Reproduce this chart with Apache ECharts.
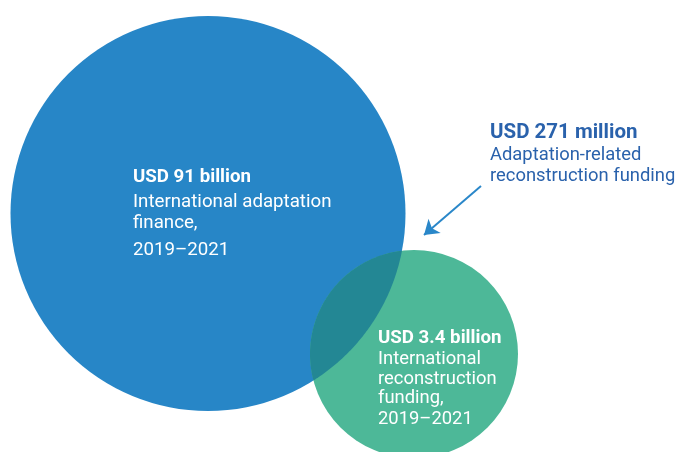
<!DOCTYPE html>
<html><head><meta charset="utf-8">
<script src="https://cdn.jsdelivr.net/npm/echarts@6/dist/echarts.min.js"></script>
<style>html,body{margin:0;padding:0;background:#fff}#c{width:679px;height:452px}</style>
</head><body><div id="c"></div>
<script>
// ---- data ----
const setNames = ['International adaptation finance', 'International reconstruction funding'];
const setAmounts = ['USD 91 billion', 'USD 3.4 billion'];
const overlapAmount = 'USD 271 million';
const setDescriptions = [
  ['International adaptation', 'finance,', '2019\u20132021'],
  ['International', 'reconstruction', 'funding,', '2019\u20132021']
];
const overlapDescription = ['Adaptation-related', 'reconstruction funding'];

// ---- layout (schematic Venn, in axis units) ----
const circleCenters = [[208, 213.5], [414, 354]];
const circleRadii = [197.5, 104];
const labelAnchors = [[133, 177], [378, 338], [490, 133]];
const lineOffsets = [[0, 25, 46, 73], [0, 21, 41, 60, 81], [0, 22, 43]];
const arrowPath = [[481, 186], [424, 235]];

const colors = { blue: '#2786C7', green: '#4DB898', overlap: '#238794', note: '#2A62AC', arrow: '#2A87C9' };
const FONT = 'Roboto, "Noto Sans", sans-serif';

const chart = echarts.init(document.getElementById('c'), null, { renderer: 'canvas' });

function circleItem(params, api) {
  const c = api.coord([api.value(0), api.value(1)]);
  const r = api.size([api.value(2), 0])[0];
  return { type: 'circle', shape: { cx: c[0], cy: c[1], r: r },
    style: { fill: params.dataIndex === 0 ? colors.blue : colors.green } };
}

function lensItem(params, api) {
  const a = api.coord(circleCenters[0]), b = api.coord(circleCenters[1]);
  const r1 = api.size([circleRadii[0], 0])[0], r2 = api.size([circleRadii[1], 0])[0];
  const dx = b[0] - a[0], dy = b[1] - a[1];
  const d = Math.hypot(dx, dy);
  const alpha = Math.acos((d * d + r1 * r1 - r2 * r2) / (2 * d * r1));
  const beta = Math.acos((d * d + r2 * r2 - r1 * r1) / (2 * d * r2));
  const tAB = Math.atan2(dy, dx), tBA = Math.atan2(-dy, -dx);
  const pts = [];
  const N = 80;
  for (let i = 0; i <= N; i++) {
    const t = tAB - alpha + 2 * alpha * i / N;
    pts.push([a[0] + r1 * Math.cos(t), a[1] + r1 * Math.sin(t)]);
  }
  for (let i = 0; i <= N; i++) {
    const t = tBA - beta + 2 * beta * i / N;
    pts.push([b[0] + r2 * Math.cos(t), b[1] + r2 * Math.sin(t)]);
  }
  return { type: 'polygon', shape: { points: pts }, style: { fill: colors.overlap } };
}

const textBlocks = [
  { title: setAmounts[0], lines: setDescriptions[0], color: '#ffffff', size: 18.7, tsize: 18.7 },
  { title: setAmounts[1], lines: setDescriptions[1], color: '#ffffff', size: 18.4, tsize: 18.7 },
  { title: overlapAmount, lines: overlapDescription, color: colors.note, size: 18.4, tsize: 20.5 }
];

function textItem(params, api) {
  const blk = textBlocks[params.dataIndex];
  const p = api.coord([api.value(0), api.value(1)]);
  const offs = lineOffsets[params.dataIndex];
  const children = [{
    type: 'text', x: p[0], y: p[1] + offs[0],
    style: { text: blk.title, fill: blk.color, font: 'bold ' + blk.tsize + 'px ' + FONT, verticalAlign: 'middle', align: 'left' }
  }];
  blk.lines.forEach((ln, i) => {
    children.push({ type: 'text', x: p[0], y: p[1] + offs[i + 1],
      style: { text: ln, fill: blk.color, font: blk.size + 'px ' + FONT, verticalAlign: 'middle', align: 'left' } });
  });
  return { type: 'group', children: children };
}

chart.setOption({
  animation: false,
  grid: { left: 0, right: 0, top: 0, bottom: 0 },
  xAxis: { type: 'value', min: 0, max: 679, show: false },
  yAxis: { type: 'value', min: 0, max: 452, inverse: true, show: false },
  series: [
    { type: 'custom', name: 'sets', renderItem: circleItem, clip: true,
      data: circleCenters.map((c, i) => ({ name: setNames[i], value: [c[0], c[1], circleRadii[i]] })) },
    { type: 'custom', name: 'overlap', renderItem: lensItem, clip: true, data: [[0, 0]] },
    { type: 'lines', coordinateSystem: 'cartesian2d', symbol: ['none', 'arrow'], symbolSize: [0, 14],
      lineStyle: { color: colors.arrow, width: 2, opacity: 1 },
      data: [{ coords: arrowPath }] },
    { type: 'custom', name: 'labels', renderItem: textItem, data: labelAnchors }
  ]
});
</script></body></html>
